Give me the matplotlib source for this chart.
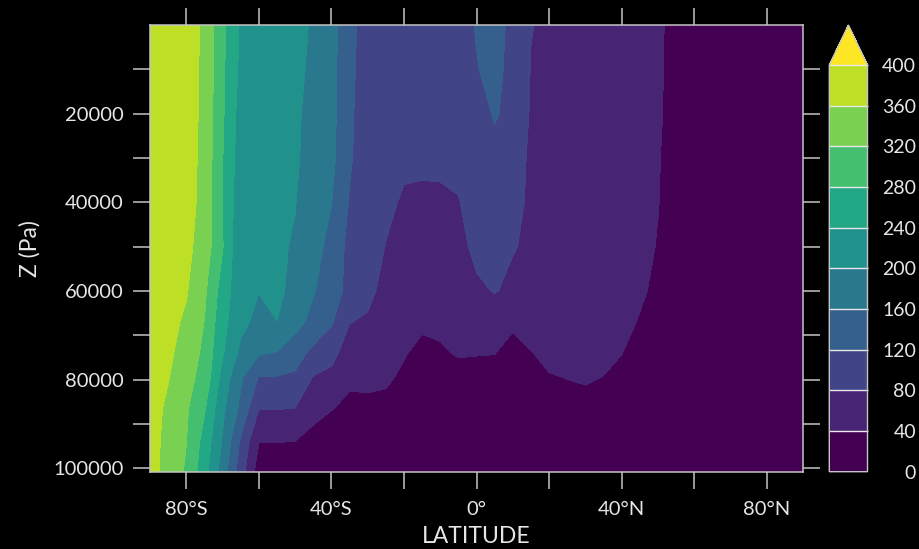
import numpy as np
import matplotlib
matplotlib.use("Agg")
import matplotlib.pyplot as plt
from matplotlib.colors import ListedColormap, BoundaryNorm

# Latitude grid (degrees, south -> north) and pressure levels (Pa)
latitude = np.arange(-90, 91, 5)
pressure = np.array([0, 10000, 20000, 30000, 40000, 50000, 60000,
                     67000, 74000, 79500, 86500, 94000, 100800])

# Zonal-mean field, one row per pressure level
row_p0 = [396, 390, 381, 352, 289, 234, 228, 218, 208, 197, 175, 130, 104, 100, 98, 98, 99, 100,
          123, 135, 109, 81, 75, 69, 64, 58, 53, 48, 42, 36, 30, 26, 24, 22, 21, 20, 20]
row_p10000 = [395, 389, 380, 351, 287, 231, 227, 217, 206, 195, 173, 128, 103, 99, 97, 97, 98, 99,
              118, 132, 106, 78.5, 73.5, 68, 63, 57.5, 52.5, 47, 42, 35, 29, 25, 23, 21, 20, 20, 20]
row_p20000 = [394, 388, 379, 350, 285, 223, 220, 212, 205, 190, 172, 126, 100, 97, 96, 96, 97, 99,
              106, 123, 110, 76, 72, 67, 62, 57, 52, 47, 42, 34, 28, 24, 22, 21, 20, 20, 20]
row_p30000 = [393, 387, 378, 348, 281, 219, 216, 210, 203, 191, 170, 124, 100, 92, 86, 86, 86, 90,
              100, 110, 96, 74, 71, 66, 61, 56, 51, 46, 41, 33, 27, 23, 21, 20, 20, 20, 20]
row_p40000 = [392, 385, 378, 345, 280, 212, 208, 205, 201, 181, 160.5, 117, 100, 87, 76, 74, 75, 78,
              100, 100, 85, 77, 72, 67, 62, 56, 51, 46, 40.5, 32, 26, 22, 21, 20, 20, 20, 20]
row_p50000 = [390, 383, 370, 342, 282, 205, 204, 205, 197, 174, 148, 108, 95, 79, 66, 63, 63, 68,
              90, 92, 82, 74, 71, 66, 60, 55, 50, 45, 39, 30, 25, 22, 20, 20, 20, 20, 20]
row_p60000 = [386, 376, 363, 327, 262, 212, 201, 212, 183, 163, 138, 108, 88, 70, 57, 52, 53, 57,
              73, 82, 72, 70, 66, 62, 57, 52, 47, 42, 37, 29, 24, 21, 20, 20, 20, 20, 20]
row_p67000 = [382, 371, 354, 319, 252, 211, 188, 199.5, 176, 146, 124, 81, 76, 58, 48.5, 44, 45, 50,
              57, 59, 45, 55, 57, 54, 51.5, 47.6, 43.7, 39, 34, 27, 22, 20, 20, 20, 20, 20, 20]
row_p74000 = [372, 365, 349, 309, 244, 190, 164, 158, 134, 111, 90, 64, 60, 50, 41.7, 34, 37, 42,
              41, 40.5, 30, 39, 46.5, 46.8, 46, 43.2, 40.3, 33, 28, 23, 20, 20, 20, 20, 20, 20, 20]
row_p79500 = [368, 362, 332, 307, 225, 165, 118, 118, 115, 78, 71.5, 44, 45, 43.5, 36, 32, 31, 32,
              33, 33, 30, 33, 38.5, 40.5, 42, 39.7, 36, 30, 26, 22, 20, 20, 20, 20, 20, 20, 20]
row_p86500 = [378, 352, 325, 284.4, 208.6, 151, 81, 81.5, 79.5, 50, 41, 35, 35, 34, 30, 25, 25, 26,
              27, 27, 25, 27, 31, 33, 34, 32, 29, 25, 22, 20, 20, 20, 20, 20, 20, 20, 20]
row_p94000 = [375, 348, 320.5, 265.6, 195.7, 114, 41, 41, 39.5, 30, 26, 24, 23, 23, 22, 20, 20, 20,
              20, 20, 20, 21, 23, 25, 26, 25, 23, 21, 20, 20, 20, 20, 20, 20, 20, 20, 20]
row_p100800 = [376, 346, 315, 255, 181, 99, 20, 15, 12, 11, 10, 10, 10, 10, 10, 10, 10, 10,
               10, 10, 10, 10, 10, 10, 10, 10, 10, 10, 10, 10, 10, 10, 10, 10, 10, 10, 10]

field = np.array([row_p0, row_p10000, row_p20000, row_p30000, row_p40000, row_p50000,
                  row_p60000, row_p67000, row_p74000, row_p79500, row_p86500,
                  row_p94000, row_p100800])

levels = np.arange(0, 401, 40)
cbar_ticks = levels

# Discrete viridis palette: 10 bands plus the "over" colour
palette = [plt.cm.viridis(i / 10) for i in range(11)]
cmap = ListedColormap(palette[:10])
cmap.set_over(palette[10])
norm = BoundaryNorm(levels, cmap.N)

plt.rcParams["font.family"] = ["Lato", "DejaVu Sans"]

fg = "#e6e6e6"
frame = "#c4c4c4"

fig = plt.figure(figsize=(9.19, 5.49), dpi=100, facecolor="black")
W, H = 919.0, 549.0
ax = fig.add_axes([150 / W, 1 - 471.7 / H, 653.3 / W, 446.7 / H])
ax.set_facecolor("black")

cs = ax.contourf(latitude, pressure, field, levels=levels, cmap=cmap, norm=norm,
                 extend="max")

ax.set_xlim(-90, 90)
ax.set_ylim(100800, 0)


def lat_label(v):
    v = int(round(v))
    if v == 0:
        return "0°"
    return f"{abs(v)}°S" if v < 0 else f"{v}°N"


xmajor = [-80, -40, 0, 40, 80]
ymajor = [20000, 40000, 60000, 80000, 100000]
ax.set_xticks(xmajor)
ax.set_xticklabels([lat_label(v) for v in xmajor])
ax.set_xticks([-60, -20, 20, 60], minor=True)
ax.set_yticks(ymajor)
ax.set_yticklabels([str(v) for v in ymajor])
ax.set_yticks([10000, 30000, 50000, 70000, 90000], minor=True)

ax.tick_params(which="both", direction="out", length=12.2, width=1.1, color=frame,
               top=True, right=True, labeltop=False, labelright=False)
ax.tick_params(axis="x", which="major", pad=9, labelsize=14.5, labelcolor=fg)
ax.tick_params(axis="y", which="major", pad=7, labelsize=14.5, labelcolor=fg)
for s in ax.spines.values():
    s.set_color(frame)
    s.set_linewidth(1.1)

ax.set_xlabel("LATITUDE", fontsize=16.5, color=fg)
ax.set_ylabel("Z (Pa)", fontsize=16.5, color=fg)
ax.xaxis.set_label_coords(0.5, (471.7 - 526.0) / 446.7)
ax.yaxis.set_label_coords((41 - 150) / 653.3, 0.5)

# Colour bar with upper extension triangle
cax = fig.add_axes([829.3 / W, 1 - 471.7 / H, 38.2 / W, 446.7 / H])
cb = fig.colorbar(cs, cax=cax, ticks=cbar_ticks, extendfrac=40 / 406.7,
                  drawedges=True)
cb.outline.set_edgecolor(frame)
cb.outline.set_linewidth(1.0)
cb.dividers.set_color("#e8e8e8")
cb.dividers.set_linewidth(1.0)
cax.tick_params(length=0, pad=35, labelsize=14, labelcolor=fg)
for t in cax.get_yticklabels():
    t.set_horizontalalignment("right")

fig.savefig("out.png", dpi=100, facecolor="black")
